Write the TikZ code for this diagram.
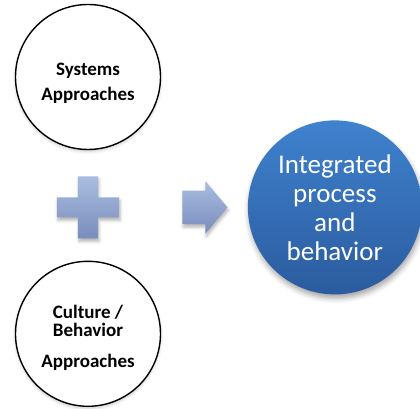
\documentclass[tikz,border=0pt]{standalone}
\usepackage{fontspec}
\setmainfont{Carlito}
\usetikzlibrary{positioning, shapes.arrows, shadows.blur}

\definecolor{deepA}{HTML}{3F82CE}
\definecolor{deepB}{HTML}{2B5B9E}
\definecolor{paleA}{HTML}{A9BCDF}
\definecolor{paleB}{HTML}{798DBD}

\begin{document}
\begin{tikzpicture}[
    node distance=22pt,
    approach/.style={circle, minimum size=145pt, draw=black, line width=1.4pt, fill=white, blur shadow={shadow xshift=0pt, shadow yshift=-2pt, shadow blur radius=3pt, shadow opacity=20}},
    caption/.style={align=center, font=\bfseries\fontsize{19}{25}\selectfont},
    result/.style={circle, minimum size=174pt, top color=deepA, bottom color=deepB, text=white, align=center, font=\fontsize{27}{29}\selectfont, blur shadow={shadow xshift=1pt, shadow yshift=-4pt, shadow blur radius=5pt, shadow opacity=35}},
    symbol/.style={top color=paleA, bottom color=paleB, blur shadow={shadow xshift=1pt, shadow yshift=-3pt, shadow blur radius=3pt, shadow opacity=30}}
]
\useasboundingbox (-88pt,77pt) rectangle (332pt,-332pt);

% the two inputs
\node (sys) [approach, label={[caption, yshift=-6pt]center:Systems\\Approaches}] at (0,0) {};
\node (plus) [below=26pt of sys, minimum size=62pt, inner sep=0pt] {};
\node (cult) [approach, below=22pt of plus, label={[caption, yshift=-4pt, font=\bfseries\fontsize{19}{18}\selectfont]center:Culture /\\Behavior\\[13pt]Approaches}] {};

% plus sign
\shade [symbol, shift={(plus.center)}] (-10pt,31pt) -- (10pt,31pt) -- (10pt,10pt) -- (31pt,10pt) -- (31pt,-10pt) -- (10pt,-10pt) -- (10pt,-31pt) -- (-10pt,-31pt) -- (-10pt,-10pt) -- (-31pt,-10pt) -- (-31pt,10pt) -- (-10pt,10pt) -- cycle;

% block arrow and outcome
\node (arr) [single arrow, symbol, right=63pt of plus, minimum height=45pt, single arrow head extend=9.5pt, single arrow tip angle=100, inner xsep=0pt, inner ysep=16.5pt] {};
\node (res) [result, right=20pt of arr] {Integrated\\process\\and\\behavior};
\end{tikzpicture}
\end{document}
